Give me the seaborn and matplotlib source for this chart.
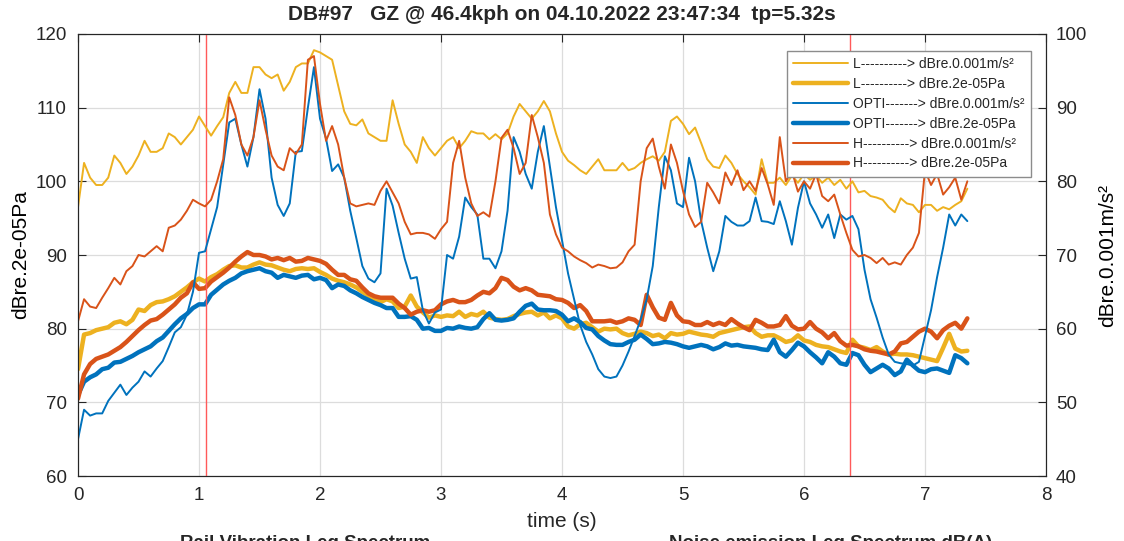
import numpy as np
import matplotlib
matplotlib.use("Agg")
import matplotlib.pyplot as plt
import seaborn as sns

# time base of the recording, 0.05 s steps up to 7.35 s
n_pts = 148
time_s = np.round(np.arange(n_pts) * 0.05, 2)

# rail vibration, dB re 0.001 m/s^2 (right axis)
L_vib = [76.5, 82.5, 80.5, 79.5, 79.5, 80.5, 83.5, 82.5, 81, 82,
         83.5, 85.5, 84, 84, 84.5, 86.5, 86, 85, 86, 87,
         88.8, 87.5, 86.2, 87.5, 88.7, 92, 93.5, 92, 92, 95.5,
         95.5, 94.5, 94, 94.5, 92.3, 93.5, 95.5, 96, 96, 97.8,
         97.5, 97, 96.5, 93, 89.5, 87.8, 87.6, 88.4, 86.5, 86,
         85.5, 85.5, 91, 87.8, 85, 84, 82.5, 86, 84.5, 83.5,
         84.5, 85.5, 86, 84.5, 85.5, 86.8, 86.5, 86.5, 85.7, 86.4,
         85.7, 86.5, 88.8, 90.5, 89.5, 88.5, 89.5, 90.9, 89.5, 86.5,
         84, 82.8, 82.2, 81.5, 81, 82, 83, 81.5, 81.5, 81.5,
         82.5, 81.5, 81.8, 82.5, 83, 83.4, 82.8, 84, 88.2, 88.8,
         87.8, 86.4, 87.3, 85.2, 83, 82, 81.8, 83.5, 82.5, 81,
         80, 79.2, 78.2, 83, 79.8, 79.8, 80.5, 79.5, 80.8, 79.8,
         81, 80.2, 80.8, 79.8, 80.5, 79.5, 80.2, 79, 80, 78.5,
         78.7, 78, 77.8, 77.5, 76.5, 75.8, 77.7, 77, 76.8, 75.8,
         76.8, 76.8, 76, 76.5, 76.2, 76.8, 77.3, 79]

OPTI_vib = [45, 49, 48.2, 48.5, 48.5, 50.2, 51.3, 52.4, 51, 52,
            52.8, 54.2, 53.5, 54.6, 55.6, 57.5, 59.5, 60.2, 61.9, 65,
            70.3, 70.5, 73.5, 76.5, 82.3, 88, 88.5, 85, 82, 86,
            92.5, 88.5, 80.5, 76.8, 75.3, 77, 84, 84.1, 90, 95.5,
            88.5, 85.8, 81.4, 82.3, 80.5, 76, 72.3, 68.5, 66.8, 66.3,
            67.5, 79, 76.7, 73, 69.5, 66.8, 67, 62.5, 60.7, 62.2,
            62.6, 70, 69.5, 72.5, 77.8, 76.5, 75.5, 69.5, 69.5, 68.2,
            70.5, 76, 86, 84, 81, 79, 84, 87.5, 82, 76.5,
            72, 67.5, 64, 60.5, 58.2, 56.5, 54.5, 53.5, 53.3, 53.5,
            55, 56.9, 59, 61.2, 64, 68.5, 76.5, 83.4, 81.5, 77,
            76.5, 83.2, 80, 74.6, 71, 67.8, 70.5, 75.3, 74.5, 74,
            74, 74.6, 77.8, 74.6, 74.5, 74.2, 77.3, 74.6, 71.4, 76.4,
            80, 77, 75.5, 73.7, 75.5, 72.3, 75.5, 74.8, 75.3, 73.5,
            68, 64, 61.5, 58.8, 56.5, 55.5, 55.3, 55.2, 55, 55.5,
            59, 62.5, 67, 71, 75.5, 74, 75.5, 74.6]

H_vib = [61, 64, 63, 62.8, 64.2, 65.5, 66.9, 66, 67.8, 68.5,
         70, 69.8, 70.5, 71.2, 70.5, 73.7, 74, 74.8, 76, 77.5,
         77, 76.6, 77.5, 80, 83, 91.4, 89, 85, 83.5, 86,
         91, 87, 83.5, 82, 81.5, 84.5, 83.7, 85, 96.5, 97,
         90.5, 85.5, 87.5, 85, 80.5, 77, 76.6, 76.8, 77, 76.8,
         78.7, 80, 78.5, 77, 74.5, 72.8, 73, 73, 72.8, 72.2,
         73.5, 74.5, 82.5, 85.5, 80.5, 77, 75.3, 75.8, 75.2, 80,
         85.9, 87, 84.5, 81, 82.5, 89, 86, 82.5, 75.5, 72.8,
         71, 70.5, 69.8, 69.3, 68.9, 68.3, 68.7, 68.5, 68.2, 68.3,
         69, 70.5, 71.4, 80, 84.5, 85.8, 82, 79, 85, 82.5,
         78.7, 75.5, 73.8, 74.5, 79.8, 78.5, 77, 81.2, 79.5, 81.5,
         78.8, 80, 78.7, 81.8, 79.6, 76.8, 86, 80, 81.4, 78.6,
         80, 79, 81, 78, 77.3, 78.2, 75.5, 73, 70.7, 69.8,
         70, 69.6, 68.9, 69.6, 68.7, 69, 68.7, 70, 71, 73,
         81.5, 79.5, 81, 78.2, 79.2, 80.5, 77.5, 80]

# noise emission, dB re 2e-05 Pa (left axis)
L_noise = [74.5, 79.2, 79.4, 79.8, 80, 80.2, 80.8, 81, 80.6, 81.2,
           82.6, 82.4, 83.2, 83.6, 83.7, 84, 84.4, 85, 85.6, 86.3,
           86.8, 86.4, 87, 87.4, 88, 88.5, 88.6, 88.3, 88.3, 88.7,
           89, 88.7, 88.6, 88.3, 88, 87.8, 88.1, 88.2, 88.1, 88.2,
           87.7, 87.3, 86.8, 86.5, 86.3, 86, 85.6, 85, 84.5, 84,
           83.6, 84, 83.7, 82.8, 83, 84.5, 83, 82.2, 81.5, 81.8,
           81.6, 81.8, 81.7, 82.3, 81.6, 82, 81.8, 82.3, 81.5, 81.3,
           81.2, 81.3, 81.7, 82, 82.2, 82.3, 81.8, 82.2, 81.4, 81.8,
           81.4, 80.3, 80, 80.6, 80.8, 80.2, 79.6, 80, 79.9, 80,
           79.4, 79.1, 79.3, 79.6, 79.4, 79, 79.2, 78.7, 79.4, 79.2,
           79.3, 79.6, 79.4, 79.2, 79.1, 78.9, 79.4, 79.6, 79.8, 80,
           80.2, 80.3, 79.4, 78.9, 79.1, 79.1, 78.7, 78.2, 78.4, 79.1,
           78.4, 78.2, 77.8, 77.6, 77.5, 77.2, 76.9, 76.7, 78.5, 77.6,
           77.4, 77.1, 77.5, 76.9, 76.5, 76.6, 76.5, 76.5, 76.4, 76.2,
           76, 75.8, 75.6, 77.4, 79.3, 77.3, 76.9, 77]

OPTI_noise = [71, 72.8, 73.4, 73.8, 74.5, 74.7, 75.4, 75.5, 75.9, 76.3,
              76.8, 77.2, 77.6, 78.3, 78.8, 79.7, 80.6, 81.4, 82, 82.8,
              83.3, 83.3, 84.6, 85.3, 86, 86.5, 86.9, 87.5, 87.8, 88,
              88.2, 87.8, 87.6, 86.9, 87.3, 87.1, 86.9, 87.2, 87.3, 86.7,
              86.9, 86.6, 85.5, 86, 85.8, 85.2, 84.8, 84.3, 83.9, 83.5,
              83.2, 82.8, 82.8, 81.6, 81.6, 81.7, 81.2, 80, 80.1, 79.7,
              79.7, 80.1, 80, 80.3, 80.1, 80, 80.2, 81.3, 82.1, 81.2,
              81.1, 81.2, 81.4, 82.3, 83.1, 83.4, 82.6, 82.5, 82.5, 82.4,
              81.9, 81, 81.4, 80.9, 80.1, 79.9, 79, 78.4, 77.9, 77.8,
              77.8, 78.2, 78.5, 79.2, 78.6, 77.9, 78, 78.2, 78.1, 77.9,
              77.6, 77.4, 77.6, 77.8, 77.6, 77.2, 77.5, 78, 77.7, 77.8,
              77.6, 77.5, 77.4, 77.2, 77.1, 78.5, 76.8, 76.2, 77.1, 78.1,
              77.6, 76.8, 76.1, 75.3, 76.8, 76.2, 75.3, 75.1, 76.7, 76.4,
              75.1, 74.1, 74.6, 75.1, 74.6, 73.7, 74.2, 75.8, 75, 74.3,
              74.1, 74.5, 74.6, 74.3, 74, 76.4, 76, 75.3]

H_noise = [70.5, 73.8, 75.2, 75.9, 76.2, 76.5, 77, 77.5, 78.2, 79,
           79.8, 80.5, 81.1, 81.3, 81.9, 82.6, 83.3, 84.2, 84.8, 86.3,
           85.4, 85.5, 86.4, 87, 87.6, 88.3, 89.1, 89.8, 90.4, 90,
           90, 89.8, 89.4, 89.6, 89.3, 89.6, 89.1, 89.2, 89.6, 89.4,
           89.2, 88.8, 88, 87.3, 87.3, 86.7, 86.5, 85.6, 84.8, 84.4,
           84.2, 84.2, 84.2, 83.4, 82.8, 81.9, 82.3, 82.5, 82.3, 82.5,
           83.3, 83.7, 83.9, 83.6, 83.6, 83.9, 84.5, 85, 84.8, 85.5,
           86.9, 86.6, 85.7, 85.2, 85.5, 85.2, 84.6, 84.5, 84.4, 84,
           83.9, 83.5, 82.8, 83.2, 82.4, 81, 81, 81, 81.1, 80.8,
           81, 81.4, 81.2, 80.5, 84.6, 82.9, 81.5, 81.2, 83.5, 81.8,
           81, 80.9, 80.5, 80.5, 80.9, 80.5, 80.8, 80.5, 81.3, 80.7,
           80.2, 79.8, 81.2, 80.8, 80.3, 80.3, 80.5, 81.7, 80.4, 79.9,
           80, 80.9, 80, 79.5, 78.7, 79.4, 78.3, 77.7, 77.8, 77.6,
           77.2, 77, 76.9, 76.7, 76.5, 76.9, 78, 78.2, 78.9, 79.6,
           80, 79.6, 78.7, 79.8, 80.4, 80.8, 80, 81.4]

marker_times = [1.06, 6.38]
title = "DB#97   GZ @ 46.4kph on 04.10.2022 23:47:34  tp=5.32s"

c_yel = "#EDB120"
c_blu = "#0072BD"
c_org = "#D95319"

sns.set_theme(style="white")
plt.rcParams["font.family"] = ["Liberation Sans", "DejaVu Sans"]

fig = plt.figure(figsize=(11.24, 5.41), dpi=100)
ax = fig.add_axes([0.0694, 0.1201, 0.8612, 0.8171])
ax2 = ax.twinx()

# thick = noise (left), thin = vibration (right)
sns.lineplot(x=time_s, y=L_noise, ax=ax, color=c_yel, lw=3.2, label="_n1")
sns.lineplot(x=time_s, y=OPTI_noise, ax=ax, color=c_blu, lw=3.2, label="_n2")
sns.lineplot(x=time_s, y=H_noise, ax=ax, color=c_org, lw=3.2, label="_n3")
sns.lineplot(x=time_s, y=L_vib, ax=ax2, color=c_yel, lw=1.4, label="_v1")
sns.lineplot(x=time_s, y=OPTI_vib, ax=ax2, color=c_blu, lw=1.4, label="_v2")
sns.lineplot(x=time_s, y=H_vib, ax=ax2, color=c_org, lw=1.4, label="_v3")

for tm in marker_times:
    ax.axvline(tm, color="#FF5A5A", lw=1.0, zorder=5)

ax.set_xlim(0, 8)
ax.set_ylim(60, 120)
ax2.set_ylim(40, 100)
ax.set_xticks(range(0, 9))
ax.set_yticks(range(60, 121, 10))
ax2.set_yticks(range(40, 101, 10))
ax.grid(True, color="#DCDCDC", lw=0.9)
ax.set_axisbelow(True)

for a in (ax, ax2):
    for s in a.spines.values():
        s.set_color("#262626")
        s.set_linewidth(0.8)
    a.tick_params(direction="in", length=6, width=0.8, labelsize=13.5, colors="#262626")
ax.tick_params(top=True, right=False, pad=8)
ax2.tick_params(right=True, pad=7)

ax.set_xlabel("time (s)", fontsize=15, color="#262626", labelpad=6)
ax.set_ylabel("dBre.2e-05Pa", fontsize=15, color="black", labelpad=4)
ax2.set_ylabel("dBre.0.001m/s²", fontsize=15, color="black", labelpad=8)
ax.set_title(title, fontsize=15, fontweight="bold", pad=10)

labels = ["L----------> dBre.0.001m/s²", "L----------> dBre.2e-05Pa",
          "OPTI-------> dBre.0.001m/s²", "OPTI-------> dBre.2e-05Pa",
          "H----------> dBre.0.001m/s²", "H----------> dBre.2e-05Pa"]
handles = [ax2.lines[0], ax.lines[0], ax2.lines[1], ax.lines[1], ax2.lines[2], ax.lines[2]]
leg = ax2.legend(handles, labels, loc="upper right", bbox_to_anchor=(0.9845, 0.9615),
                 fontsize=10, frameon=True, fancybox=False, framealpha=1,
                 edgecolor="#8C8C8C", handlelength=4, labelspacing=0.42,
                 borderpad=0.45, handletextpad=0.35, borderaxespad=0)
leg.get_frame().set_linewidth(1.0)

fig.text(0.2715, 0.011, "Rail Vibration Leq Spectrum", ha="center", va="top",
         fontsize=13.5, fontweight="bold")
fig.text(0.7385, 0.011, "Noise emission Leq Spectrum dB(A)", ha="center", va="top",
         fontsize=13.5, fontweight="bold")

fig.savefig("out.png", dpi=100)
